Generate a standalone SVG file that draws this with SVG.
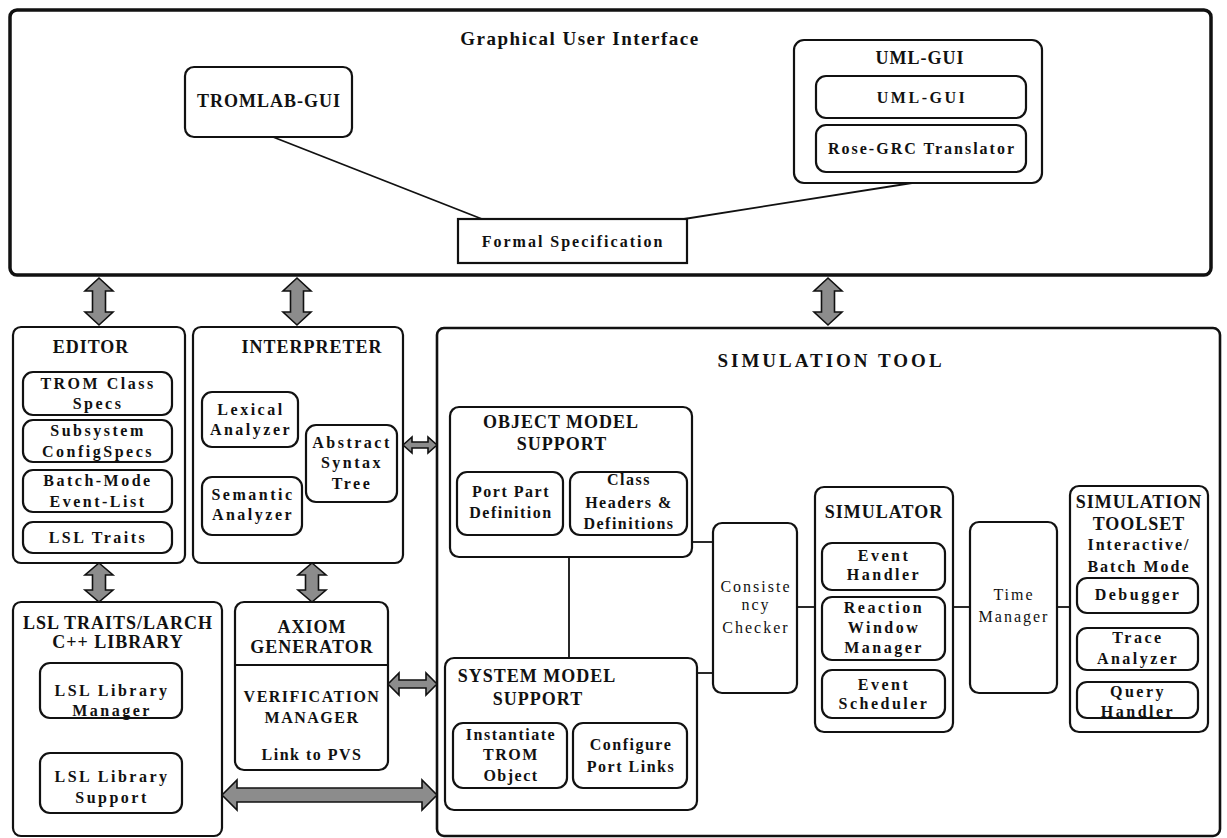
<svg xmlns="http://www.w3.org/2000/svg" width="1227" height="838" viewBox="0 0 1227 838">
  <style>
    .box { fill: #fff; stroke: #111; stroke-width: 2.2; }
    .heavy { fill: none; stroke: #111; stroke-width: 3.5; }
    .t { font-family: "Liberation Serif", "Times New Roman", serif; font-weight: bold; text-anchor: middle; fill: #111; }
    .ttl { font-size: 18px; letter-spacing: 1px; }
    .itm { font-size: 16px; letter-spacing: 2.5px; }
    .lt { font-weight: normal; letter-spacing: 2px; }
    .con { stroke: #111; stroke-width: 1.8; fill: none; }
    .arr { fill: #8c8c8c; stroke: #111; stroke-width: 1.6; stroke-linejoin: miter; }
  </style>
  <rect width="1227" height="838" fill="#fff"/>

  <!-- Graphical User Interface frame -->
  <g id="gui">
    <rect class="heavy" x="10" y="10" width="1201" height="265" rx="7"/>
    <text class="t ttl" x="580" y="45" style="font-size:19px;letter-spacing:1.5px">Graphical User Interface</text>
  </g>
  <g id="tromlab-gui">
    <rect class="box" x="185" y="67" width="167" height="70" rx="9"/>
    <text class="t ttl" x="269" y="107">TROMLAB-GUI</text>
  </g>
  <g id="formal-spec">
    <rect class="box" x="458" y="219" width="229" height="44"/>
    <text class="t itm" x="573" y="247" style="letter-spacing:2px">Formal Specification</text>
  </g>
  <g id="uml-gui">
    <rect class="box" x="794" y="40" width="248" height="143" rx="10"/>
    <text class="t ttl" x="920" y="64">UML-GUI</text>
    <rect class="box" x="816" y="76" width="210" height="42" rx="10"/>
    <text class="t itm" x="922" y="103">UML-GUI</text>
    <rect class="box" x="816" y="125" width="210" height="47" rx="10"/>
    <text class="t itm" x="922" y="154" style="letter-spacing:2px">Rose-GRC Translator</text>
  </g>

  <!-- Editor -->
  <g id="editor">
    <rect class="box" x="13" y="327" width="172" height="236" rx="8"/>
    <text class="t ttl" x="91" y="353">EDITOR</text>
    <rect class="box" x="23" y="372" width="149" height="43" rx="10"/>
    <text class="t itm"><tspan x="98" y="389">TROM Class</tspan><tspan x="98" y="409">Specs</tspan></text>
    <rect class="box" x="23" y="420" width="149" height="42" rx="10"/>
    <text class="t itm"><tspan x="98" y="436">Subsystem</tspan><tspan x="98" y="457">ConfigSpecs</tspan></text>
    <rect class="box" x="23" y="470" width="149" height="42" rx="10"/>
    <text class="t itm"><tspan x="98" y="486">Batch-Mode</tspan><tspan x="98" y="507">Event-List</tspan></text>
    <rect class="box" x="23" y="522" width="149" height="31" rx="10"/>
    <text class="t itm" x="98" y="543">LSL Traits</text>
  </g>

  <!-- Interpreter -->
  <g id="interpreter">
    <rect class="box" x="193" y="327" width="210" height="236" rx="8"/>
    <text class="t ttl" x="312" y="353">INTERPRETER</text>
    <rect class="box" x="202" y="392" width="96" height="55" rx="10"/>
    <text class="t itm"><tspan x="251" y="415">Lexical</tspan><tspan x="251" y="435">Analyzer</tspan></text>
    <rect class="box" x="202" y="477" width="100" height="58" rx="10"/>
    <text class="t itm"><tspan x="253" y="500">Semantic</tspan><tspan x="253" y="520">Analyzer</tspan></text>
    <rect class="box" x="306" y="425" width="91" height="77" rx="10"/>
    <text class="t itm"><tspan x="352" y="448">Abstract</tspan><tspan x="352" y="468">Syntax</tspan><tspan x="352" y="489">Tree</tspan></text>
  </g>

  <!-- LSL Traits / Larch C++ library -->
  <g id="lsl-library">
    <rect class="box" x="13" y="602" width="209" height="234" rx="8"/>
    <text class="t ttl"><tspan x="118" y="629">LSL TRAITS/LARCH</tspan><tspan x="118" y="648">C++ LIBRARY</tspan></text>
    <rect class="box" x="40" y="663" width="142" height="55" rx="10"/>
    <text class="t itm"><tspan x="112" y="696">LSL Library</tspan><tspan x="112" y="716">Manager</tspan></text>
    <rect class="box" x="40" y="753" width="142" height="60" rx="10"/>
    <text class="t itm"><tspan x="112" y="782">LSL Library</tspan><tspan x="112" y="803">Support</tspan></text>
  </g>

  <!-- Axiom generator / verification manager -->
  <g id="axiom-generator">
    <rect class="box" x="235" y="602" width="153" height="168" rx="9"/>
    <line class="con" x1="235" y1="665" x2="388" y2="665"/>
    <text class="t ttl"><tspan x="312" y="633">AXIOM</tspan><tspan x="312" y="653">GENERATOR</tspan></text>
    <text class="t itm" style="letter-spacing:1.5px"><tspan x="312" y="702">VERIFICATION</tspan><tspan x="312" y="723">MANAGER</tspan><tspan x="312" y="760">Link to PVS</tspan></text>
  </g>

  <!-- Simulation tool frame -->
  <g id="simulation-tool">
    <rect class="box" x="437" y="328" width="783" height="508" rx="7" style="stroke-width:2.6"/>
    <text class="t ttl" x="831" y="367" style="font-size:19px;letter-spacing:3px">SIMULATION TOOL</text>
  </g>
  <g id="object-model-support">
    <rect class="box" x="450" y="407" width="242" height="150" rx="9"/>
    <text class="t ttl"><tspan x="561" y="428">OBJECT MODEL</tspan><tspan x="562" y="450">SUPPORT</tspan></text>
    <rect class="box" x="457" y="472" width="106" height="63" rx="10"/>
    <text class="t itm" style="letter-spacing:1.5px"><tspan x="511" y="497">Port Part</tspan><tspan x="511" y="518">Definition</tspan></text>
    <rect class="box" x="570" y="472" width="117" height="63" rx="10"/>
    <text class="t itm" style="letter-spacing:1.5px"><tspan x="629" y="485">Class</tspan><tspan x="629" y="508">Headers &amp;</tspan><tspan x="629" y="529">Definitions</tspan></text>
  </g>
  <g id="system-model-support">
    <rect class="box" x="445" y="658" width="252" height="152" rx="9"/>
    <text class="t ttl"><tspan x="537" y="682">SYSTEM MODEL</tspan><tspan x="538" y="705">SUPPORT</tspan></text>
    <rect class="box" x="453" y="723" width="114" height="65" rx="10"/>
    <text class="t itm" style="letter-spacing:1.5px"><tspan x="511" y="740">Instantiate</tspan><tspan x="511" y="760">TROM</tspan><tspan x="511" y="781">Object</tspan></text>
    <rect class="box" x="573" y="723" width="114" height="65" rx="10"/>
    <text class="t itm" style="letter-spacing:1.5px"><tspan x="631" y="750">Configure</tspan><tspan x="631" y="772">Port Links</tspan></text>
  </g>
  <g id="consistency-checker">
    <rect class="box" x="713" y="523" width="84" height="170" rx="9"/>
    <text class="t itm lt"><tspan x="756" y="592">Consiste</tspan><tspan x="756" y="610">ncy</tspan><tspan x="756" y="633">Checker</tspan></text>
  </g>
  <g id="simulator">
    <rect class="box" x="815" y="487" width="138" height="245" rx="9"/>
    <text class="t ttl" x="884" y="518">SIMULATOR</text>
    <rect class="box" x="822" y="543" width="123" height="47" rx="10"/>
    <text class="t itm"><tspan x="884" y="561">Event</tspan><tspan x="884" y="580">Handler</tspan></text>
    <rect class="box" x="822" y="597" width="123" height="63" rx="10"/>
    <text class="t itm"><tspan x="884" y="613">Reaction</tspan><tspan x="884" y="633">Window</tspan><tspan x="884" y="653">Manager</tspan></text>
    <rect class="box" x="822" y="670" width="123" height="48" rx="10"/>
    <text class="t itm"><tspan x="884" y="690">Event</tspan><tspan x="884" y="709">Scheduler</tspan></text>
  </g>
  <g id="time-manager">
    <rect class="box" x="970" y="522" width="87" height="171" rx="9"/>
    <text class="t itm lt"><tspan x="1014" y="600">Time</tspan><tspan x="1014" y="622">Manager</tspan></text>
  </g>
  <g id="simulation-toolset">
    <rect class="box" x="1070" y="486" width="138" height="246" rx="9"/>
    <text class="t ttl"><tspan x="1139" y="508">SIMULATION</tspan><tspan x="1139" y="530">TOOLSET</tspan></text>
    <text class="t itm" style="letter-spacing:2px"><tspan x="1139" y="550">Interactive/</tspan><tspan x="1139" y="572">Batch Mode</tspan></text>
    <rect class="box" x="1077" y="578" width="121" height="35" rx="10"/>
    <text class="t itm" x="1138" y="600">Debugger</text>
    <rect class="box" x="1077" y="628" width="121" height="42" rx="10"/>
    <text class="t itm"><tspan x="1138" y="643">Trace</tspan><tspan x="1138" y="664">Analyzer</tspan></text>
    <rect class="box" x="1077" y="682" width="121" height="36" rx="10"/>
    <text class="t itm"><tspan x="1138" y="697">Query</tspan><tspan x="1138" y="717">Handler</tspan></text>
  </g>

  <!-- Connectors -->
  <g id="connectors">
    <line class="con" x1="273" y1="137" x2="482" y2="219"/>
    <line class="con" x1="684" y1="219" x2="912" y2="183"/>
    <line class="con" x1="569" y1="557" x2="569" y2="658"/>
    <line class="con" x1="692" y1="542" x2="713" y2="542"/>
    <line class="con" x1="697" y1="673" x2="713" y2="673"/>
    <line class="con" x1="797" y1="607" x2="815" y2="607"/>
    <line class="con" x1="953" y1="607" x2="970" y2="607"/>
    <line class="con" x1="1057" y1="607" x2="1070" y2="607"/>

    <path class="arr" d="M99,278 L113,291 L105.5,291 L105.5,312 L113,312 L99,325 L85,312 L92.5,312 L92.5,291 L85,291 Z"/>
    <path class="arr" d="M297,278 L311,291 L303.5,291 L303.5,312 L311,312 L297,325 L283,312 L290.5,312 L290.5,291 L283,291 Z"/>
    <path class="arr" d="M828,278 L842,291 L834.5,291 L834.5,312 L842,312 L828,325 L814,312 L821.5,312 L821.5,291 L814,291 Z"/>
    <path class="arr" d="M99,563 L113,575 L105.5,575 L105.5,590 L113,590 L99,602 L85,590 L92.5,590 L92.5,575 L85,575 Z"/>
    <path class="arr" d="M312,563 L326,575 L318.5,575 L318.5,590 L326,590 L312,602 L298,590 L305.5,590 L305.5,575 L298,575 Z"/>
    <path class="arr" d="M403,445 L412,437 L412,442 L428,442 L428,437 L437,445 L428,453 L428,448 L412,448 L412,453 Z"/>
    <path class="arr" d="M388,684 L399,673 L399,680 L426,680 L426,673 L437,684 L426,695 L426,688 L399,688 L399,695 Z"/>
    <path class="arr" d="M222,795 L237,780 L237,788 L422,788 L422,780 L437,795 L422,810 L422,802 L237,802 L237,810 Z"/>
  </g>
</svg>
